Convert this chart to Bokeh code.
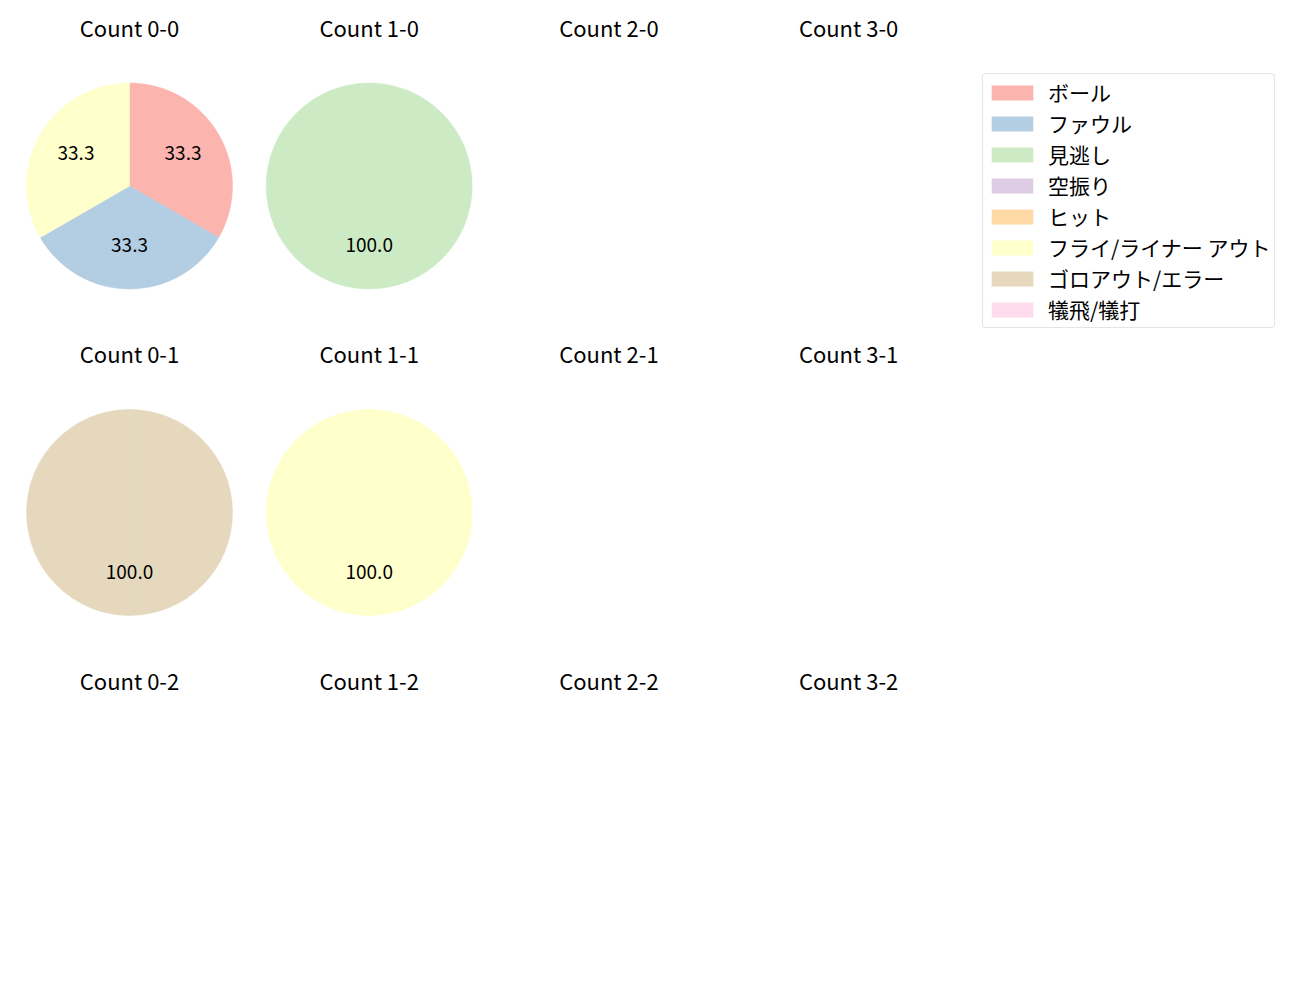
import math
from bokeh.plotting import figure
from bokeh.models import Range1d, Legend, LegendItem
from bokeh.core.properties import value
from bokeh.embed import file_html
from bokeh.resources import INLINE

# ---- data ----
categories = ["ボール", "ファウル", "見逃し", "空振り", "ヒット",
              "フライ/ライナー アウト", "ゴロアウト/エラー", "犠飛/犠打"]
colors = ["#fbb4ae", "#b3cde3", "#ccebc5", "#decbe4", "#fed9a6",
          "#ffffcc", "#e5d8bd", "#fddaec"]
balls = [0, 1, 2, 3]
strikes = [0, 1, 2]
# counts per category (same order as categories) for each ball-strike count
count_0_0 = [1, 1, 0, 0, 0, 1, 0, 0]
count_1_0 = [0, 0, 1, 0, 0, 0, 0, 0]
count_2_0 = [0, 0, 0, 0, 0, 0, 0, 0]
count_3_0 = [0, 0, 0, 0, 0, 0, 0, 0]
count_0_1 = [0, 0, 0, 0, 0, 0, 1, 0]
count_1_1 = [0, 0, 0, 0, 0, 1, 0, 0]
count_2_1 = [0, 0, 0, 0, 0, 0, 0, 0]
count_3_1 = [0, 0, 0, 0, 0, 0, 0, 0]
count_0_2 = [0, 0, 0, 0, 0, 0, 0, 0]
count_1_2 = [0, 0, 0, 0, 0, 0, 0, 0]
count_2_2 = [0, 0, 0, 0, 0, 0, 0, 0]
count_3_2 = [0, 0, 0, 0, 0, 0, 0, 0]
counts = {
    (0, 0): count_0_0, (1, 0): count_1_0, (2, 0): count_2_0, (3, 0): count_3_0,
    (0, 1): count_0_1, (1, 1): count_1_1, (2, 1): count_2_1, (3, 1): count_3_1,
    (0, 2): count_0_2, (1, 2): count_1_2, (2, 2): count_2_2, (3, 2): count_3_2,
}

# ---- layout (pixel-like data space, y measured upward) ----
W, H = 1284, 984
FONT = "Noto Sans CJK JP"
x0, dx = 129.0, 239.7
y0, dy = 1000 - 185.5, 326.5
R = 103.0
title_off = 159.5
label_lift = 2.5

p = figure(width=W, height=H, output_backend="svg", toolbar_location=None,
           x_range=Range1d(0, W), y_range=Range1d(1000 - H, 1000),
           x_axis_location=None, y_axis_location=None, min_border=0)
p.grid.visible = False
p.outline_line_color = None

wx, wy, ws, we, wc = [], [], [], [], []
tx, ty, tt = [], [], []
hx, hy, ht = [], [], []
for s in strikes:
    for b in balls:
        cx = x0 + dx * b
        cy = y0 - dy * s
        hx.append(cx)
        hy.append(cy + title_off)
        ht.append(f"Count {b}-{s}")
        vals = counts[(b, s)]
        total = sum(vals)
        if total == 0:
            continue
        cum = 0.0
        for i, v in enumerate(vals):
            if v == 0:
                continue
            f0 = cum / total
            cum += v
            f1 = cum / total
            a_start = math.pi / 2 - f1 * 2 * math.pi
            a_end = math.pi / 2 - f0 * 2 * math.pi
            # split large wedges into halves (full circles render poorly)
            if a_end - a_start > math.pi:
                a_mid = (a_start + a_end) / 2
                pieces = [(a_start, a_mid), (a_mid, a_end)]
            else:
                pieces = [(a_start, a_end)]
            for (sa, ea) in pieces:
                wx.append(cx); wy.append(cy); ws.append(sa); we.append(ea)
                wc.append(colors[i])
            mid = (a_start + a_end) / 2
            tx.append(cx + 0.6 * R * math.cos(mid))
            ty.append(cy + 0.6 * R * math.sin(mid) + label_lift)
            tt.append(f"{100.0 * v / total:.1f}")

p.wedge(x=wx, y=wy, radius=R, start_angle=ws, end_angle=we,
        fill_color=wc, line_color=wc, line_width=0.5)
p.text(x=tx, y=ty, text=tt, text_align="center", text_baseline="middle",
       text_font=value(FONT), text_font_size="19px", text_color="#000000")
p.text(x=hx, y=hy, text=ht, text_align="center", text_baseline="middle",
       text_font=value(FONT), text_font_size="22px", text_color="#000000")

# legend proxies (NaN positions: only shown in the legend)
nan = float("nan")
items = []
for cat, col in zip(categories, colors):
    r = p.quad(left=[nan], right=[nan], top=[nan], bottom=[nan],
               fill_color=col, line_color=None)
    items.append(LegendItem(label=cat, renderers=[r]))

legend = Legend(items=items, location=(982, 656),
                label_text_font=FONT, label_text_font_size="21px",
                label_text_color="#000000",
                glyph_width=52, glyph_height=19, label_standoff=10,
                label_height=29, spacing=1, padding=3, margin=0,
                border_line_color="#cccccc", border_line_width=1,
                background_fill_alpha=1.0)
if "border_radius" in Legend.properties():
    legend.border_radius = 4
p.add_layout(legend, "center")

open("out.html", "w").write(file_html(p, INLINE))
